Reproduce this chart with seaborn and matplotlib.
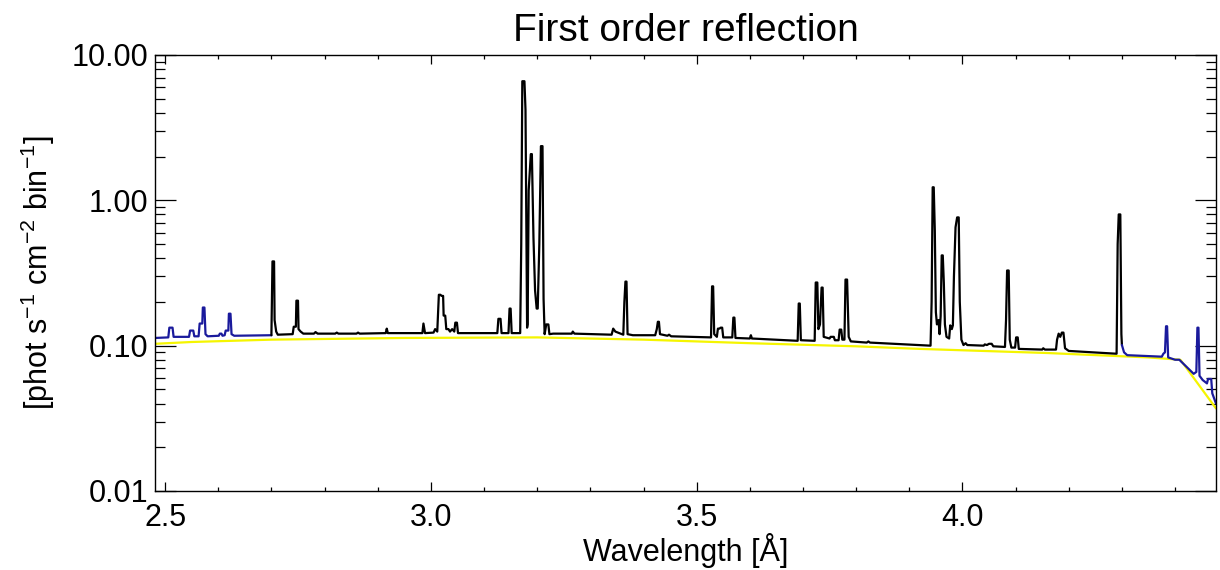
import numpy as np
import matplotlib
matplotlib.use("Agg")
import matplotlib.pyplot as plt
from matplotlib.ticker import MultipleLocator, FormatStrFormatter, LogLocator, NullFormatter
import seaborn as sns

# ---------------- data ----------------
# blue part of the spectrum, short-wavelength side
wl_blue_left = [2.481, 2.506, 2.508, 2.514, 2.516, 2.545, 2.547, 2.553, 2.555, 2.563,
                2.565, 2.570, 2.571, 2.574, 2.576, 2.580, 2.601, 2.603, 2.606, 2.608,
                2.612, 2.614, 2.619, 2.620, 2.623, 2.625, 2.630, 2.700]
flux_blue_left = [0.113, 0.114, 0.133, 0.133, 0.115, 0.115, 0.127, 0.127, 0.116, 0.116,
                  0.142, 0.142, 0.183, 0.183, 0.120, 0.116, 0.117, 0.121, 0.121, 0.117,
                  0.118, 0.127, 0.127, 0.166, 0.166, 0.120, 0.117, 0.118]

# black part of the spectrum
wl_black = [2.700, 2.702, 2.705, 2.706, 2.709, 2.712, 2.740, 2.742, 2.746, 2.747,
            2.750, 2.751, 2.755, 2.760, 2.780, 2.783, 2.787, 2.820, 2.823, 2.826,
            2.860, 2.863, 2.866, 2.915, 2.917, 2.919, 2.984, 2.986, 2.989, 3.005,
            3.008, 3.012, 3.015, 3.018, 3.020, 3.023, 3.024, 3.027, 3.029, 3.033,
            3.036, 3.040, 3.044, 3.046, 3.049, 3.051, 3.125, 3.127, 3.131, 3.133,
            3.146, 3.148, 3.150, 3.152, 3.168, 3.170, 3.172, 3.176, 3.178, 3.181,
            3.182, 3.184, 3.188, 3.190, 3.193, 3.196, 3.199, 3.201, 3.204, 3.207,
            3.210, 3.212, 3.214, 3.217, 3.221, 3.223, 3.230, 3.265, 3.267, 3.270,
            3.340, 3.343, 3.347, 3.362, 3.364, 3.366, 3.368, 3.370, 3.380, 3.422,
            3.425, 3.427, 3.429, 3.431, 3.445, 3.448, 3.452, 3.527, 3.529, 3.531,
            3.533, 3.538, 3.540, 3.543, 3.545, 3.548, 3.550, 3.567, 3.569, 3.571,
            3.573, 3.600, 3.602, 3.604, 3.690, 3.692, 3.694, 3.696, 3.722, 3.724,
            3.727, 3.729, 3.732, 3.735, 3.737, 3.739, 3.750, 3.752, 3.758, 3.760,
            3.767, 3.769, 3.772, 3.774, 3.778, 3.780, 3.783, 3.786, 3.790, 3.820,
            3.823, 3.826, 3.940, 3.942, 3.944, 3.946, 3.948, 3.950, 3.952, 3.955,
            3.957, 3.959, 3.961, 3.963, 3.965, 3.967, 3.970, 3.975, 3.977, 3.980,
            3.982, 3.984, 3.987, 3.990, 3.993, 3.995, 3.998, 4.002, 4.006, 4.009,
            4.040, 4.042, 4.046, 4.050, 4.055, 4.058, 4.080, 4.082, 4.084, 4.087,
            4.089, 4.092, 4.099, 4.101, 4.104, 4.106, 4.150, 4.152, 4.155, 4.176,
            4.178, 4.181, 4.184, 4.187, 4.190, 4.193, 4.200, 4.290, 4.292, 4.294,
            4.297, 4.299, 4.300]
flux_black = [0.118, 0.380, 0.380, 0.150, 0.125, 0.119, 0.120, 0.135, 0.135, 0.204,
              0.204, 0.130, 0.125, 0.121, 0.121, 0.124, 0.121, 0.121, 0.123, 0.121,
              0.121, 0.123, 0.121, 0.122, 0.131, 0.122, 0.122, 0.142, 0.122, 0.123,
              0.130, 0.125, 0.224, 0.224, 0.220, 0.220, 0.161, 0.161, 0.130, 0.130,
              0.125, 0.130, 0.125, 0.144, 0.144, 0.122, 0.122, 0.153, 0.153, 0.122,
              0.122, 0.180, 0.180, 0.122, 0.122, 0.500, 6.600, 6.600, 4.200, 0.133,
              0.140, 1.170, 2.080, 2.080, 0.550, 0.240, 0.180, 0.180, 0.500, 2.360,
              2.360, 0.210, 0.120, 0.140, 0.140, 0.120, 0.121, 0.121, 0.125, 0.121,
              0.119, 0.131, 0.125, 0.119, 0.200, 0.276, 0.276, 0.120, 0.118, 0.118,
              0.130, 0.146, 0.146, 0.120, 0.117, 0.119, 0.116, 0.114, 0.256, 0.256,
              0.120, 0.115, 0.131, 0.131, 0.133, 0.133, 0.114, 0.114, 0.156, 0.156,
              0.113, 0.112, 0.118, 0.112, 0.108, 0.195, 0.195, 0.109, 0.108, 0.272,
              0.272, 0.130, 0.140, 0.251, 0.251, 0.115, 0.112, 0.115, 0.115, 0.109,
              0.109, 0.129, 0.129, 0.110, 0.110, 0.285, 0.285, 0.115, 0.107, 0.105,
              0.107, 0.105, 0.100, 0.200, 1.230, 1.230, 0.620, 0.170, 0.140, 0.150,
              0.120, 0.160, 0.418, 0.418, 0.270, 0.140, 0.115, 0.112, 0.138, 0.130,
              0.138, 0.300, 0.652, 0.763, 0.763, 0.200, 0.110, 0.101, 0.104, 0.101,
              0.100, 0.102, 0.101, 0.103, 0.103, 0.099, 0.098, 0.150, 0.329, 0.329,
              0.110, 0.097, 0.097, 0.114, 0.114, 0.095, 0.094, 0.096, 0.094, 0.094,
              0.110, 0.121, 0.115, 0.123, 0.123, 0.096, 0.092, 0.088, 0.500, 0.800,
              0.800, 0.120, 0.101]

# blue part of the spectrum, long-wavelength side
wl_blue_right = [4.300, 4.304, 4.310, 4.375, 4.378, 4.381, 4.383, 4.385, 4.387, 4.400,
                 4.408, 4.435, 4.440, 4.442, 4.444, 4.446, 4.452, 4.460, 4.462, 4.468,
                 4.470, 4.477]
flux_blue_right = [0.101, 0.090, 0.086, 0.084, 0.088, 0.090, 0.136, 0.136, 0.083, 0.080,
                   0.080, 0.064, 0.066, 0.133, 0.133, 0.062, 0.058, 0.055, 0.059, 0.059,
                   0.047, 0.040]

# continuum (yellow)
wl_cont = [2.481, 2.55, 2.70, 2.95, 3.20, 3.40, 3.60, 3.80, 3.92, 4.16, 4.35, 4.41, 4.477]
flux_cont = [0.103, 0.106, 0.110, 0.113, 0.114, 0.110, 0.104, 0.099, 0.095, 0.089,
             0.083, 0.080, 0.037]

x_ticks = [2.5, 3.0, 3.5, 4.0]
y_ticks = [0.01, 0.1, 1.0, 10.0]

title = "First order reflection"
xlabel = "Wavelength [Å]"
ylabel = r"[phot s$^{-1}$ cm$^{-2}$ bin$^{-1}$]"

# ---------------- styling ----------------
sns.set_theme(style="white")
plt.rcParams["font.family"] = ["Liberation Sans", "DejaVu Sans"]
plt.rcParams["mathtext.fontset"] = "custom"
plt.rcParams["mathtext.rm"] = "Liberation Sans"
plt.rcParams["mathtext.it"] = "Liberation Sans"
plt.rcParams["mathtext.default"] = "regular"
plt.rcParams["axes.unicode_minus"] = True
for key in ["text.color", "axes.labelcolor", "xtick.color", "ytick.color", "axes.edgecolor"]:
    plt.rcParams[key] = "black"

fig = plt.figure(figsize=(12.2, 5.7), dpi=100)
ax = fig.add_axes([155 / 1220, 1 - 491 / 570, (1216 - 155) / 1220, (491 - 55) / 570])

sns.lineplot(x=wl_cont, y=flux_cont, color="#f5f500", lw=1.6, ax=ax,
             estimator=None, sort=False)
sns.lineplot(x=wl_blue_left, y=flux_blue_left, color="#1a1a9c", lw=1.6, ax=ax,
             estimator=None, sort=False)
sns.lineplot(x=wl_black, y=flux_black, color="black", lw=1.6, ax=ax,
             estimator=None, sort=False)
sns.lineplot(x=wl_blue_right, y=flux_blue_right, color="#1a1a9c", lw=1.6, ax=ax,
             estimator=None, sort=False)

ax.set_yscale("log")
ax.set_xlim(2.481, 4.477)
ax.set_ylim(0.01, 10.0)

ax.set_xticks(x_ticks)
ax.xaxis.set_major_formatter(FormatStrFormatter("%.1f"))
ax.xaxis.set_minor_locator(MultipleLocator(0.1))
ax.set_yticks(y_ticks)
ax.yaxis.set_major_formatter(FormatStrFormatter("%.2f"))
ax.yaxis.set_minor_locator(LogLocator(base=10, subs=np.arange(2, 10)))
ax.yaxis.set_minor_formatter(NullFormatter())

ax.xaxis.set_tick_params(which="major", direction="in", length=6.5, width=0.9,
                         top=True, bottom=True, labelsize=22, pad=9,
                         color="black", labelcolor="black")
ax.xaxis.set_tick_params(which="minor", direction="in", length=3.2, width=0.9,
                         top=True, bottom=True, color="black")
ax.yaxis.set_tick_params(which="major", direction="in", length=15, width=0.9,
                         left=True, right=True, labelsize=22, pad=5,
                         color="black", labelcolor="black")
ax.yaxis.set_tick_params(which="minor", direction="in", length=7.5, width=0.9,
                         left=True, right=True, color="black")

for sp in ax.spines.values():
    sp.set_color("black")
    sp.set_linewidth(1.0)

ax.set_title(title, fontsize=28, pad=10, color="black")
ax.set_xlabel(xlabel, fontsize=22, labelpad=0, color="black")
ax.set_ylabel(ylabel, fontsize=22, labelpad=10, color="black")
ax.grid(False)

fig.savefig("out.png", dpi=100, facecolor="white")
